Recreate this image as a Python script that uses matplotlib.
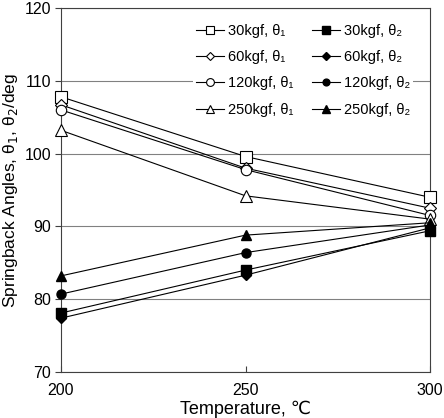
import matplotlib
matplotlib.use("Agg")
import matplotlib.pyplot as plt

plt.rcParams["font.family"] = ["Liberation Sans", "DejaVu Sans"]

# ---- data ----
temps = [200, 250, 300]
loads = ["30kgf", "60kgf", "120kgf", "250kgf"]
markers = ["s", "D", "o", "^"]

theta1_30 = [107.8, 99.6, 94.0]
theta1_60 = [106.7, 98.0, 92.5]
theta1_120 = [106.0, 97.8, 91.5]
theta1_250 = [103.2, 94.2, 91.0]

theta2_30 = [78.1, 84.0, 89.4]
theta2_60 = [77.4, 83.3, 89.8]
theta2_120 = [80.7, 86.4, 90.2]
theta2_250 = [83.2, 88.8, 90.5]

theta1 = [theta1_30, theta1_60, theta1_120, theta1_250]
theta2 = [theta2_30, theta2_60, theta2_120, theta2_250]

yticks = [70, 80, 90, 100, 110, 120]
xticks = [200, 250, 300]

fig = plt.figure(figsize=(4.44, 4.18), dpi=100)
ax = fig.add_axes([61 / 444, 1 - 372 / 418, (430 - 61) / 444, (372 - 8) / 418])

ms = {"s": 8, "D": 6, "o": 7.5, "^": 8}
handles = []
for ld, mk, y1, y2 in zip(loads, markers, theta1, theta2):
    h1, = ax.plot(temps, y1, color="black", lw=0.8, marker=mk, ms=ms[mk],
                  mfc="white", mec="black", mew=0.8, label=f"{ld}, θ₁",
                  clip_on=False, zorder=3)
    h2, = ax.plot(temps, y2, color="black", lw=0.8, marker=mk, ms=ms[mk] - 1,
                  mfc="black", mec="black", label=f"{ld}, θ₂",
                  clip_on=False, zorder=3)
    handles.append((h1, h2))

order = [h[0] for h in handles] + [h[1] for h in handles]
leg = ax.legend(handles=order, ncol=2, loc="upper right",
                bbox_to_anchor=(0.975, 0.985), frameon=True, fancybox=False,
                edgecolor="none", facecolor="white", framealpha=1,
                fontsize=10.5, handlelength=1.9, handletextpad=0.3,
                columnspacing=1.3, labelspacing=0.85, borderpad=0.2,
                markerscale=0.75)

ax.set_xlim(200, 300)
ax.set_ylim(70, 120)
ax.set_xticks(xticks)
ax.set_yticks(yticks)
ax.yaxis.grid(True, color="#808080", lw=0.8)
ax.set_axisbelow(True)
ax.tick_params(axis="both", labelsize=11.5, length=4, width=0.8, color="#404040")
ax.tick_params(axis="x", direction="in", pad=8)
ax.tick_params(axis="y", direction="out", pad=3)
for sp in ax.spines.values():
    sp.set_linewidth(0.8)
    sp.set_color("#404040")

ax.set_ylabel("Springback Angles, θ$_1$, θ$_2$/deg", fontsize=12.5, labelpad=3)
ax.set_xlabel("Temperature, ℃", fontsize=13, labelpad=2)

fig.savefig("out.png", dpi=100)
